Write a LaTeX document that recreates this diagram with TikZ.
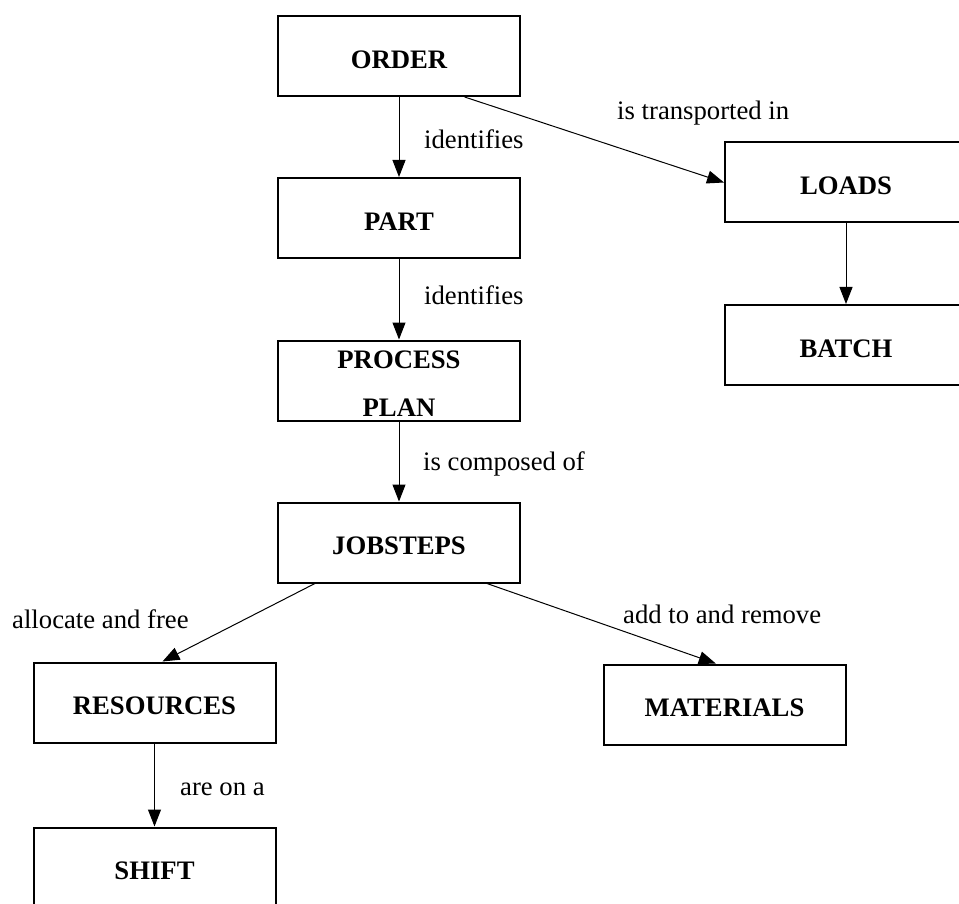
\documentclass[tikz,border=0pt]{standalone}
\usepackage{fontspec}
\setmainfont{Liberation Serif}
\usetikzlibrary{arrows.meta}

\tikzset{
  entity/.style={draw, line width=2pt, minimum width=242pt, minimum height=80pt,
    inner sep=0pt, text height=24.5pt, text depth=0pt,
    font=\fontsize{26.7}{32}\selectfont\bfseries},
  twoline/.style={inner sep=0pt, align=center,
    font=\fontsize{26.7}{48}\selectfont\bfseries},
  relation/.style={font=\fontsize{26.7}{32}\selectfont, inner sep=0pt},
  link/.style={line width=1pt, -{Triangle[length=17pt,width=13pt]}}
}

\begin{document}
\begin{tikzpicture}[x=1pt, y=-1pt]
  \useasboundingbox (0,0) rectangle (959,904);
  \clip (0,0) rectangle (959,904);

  % entities
  \node[entity] (order)     at (399,56)    {ORDER};
  \node[entity] (part)      at (399,218)   {PART};
  \node[entity] (plan)      at (399,380.5) {};
  \node[twoline] (plantext) at ([yshift=-3.5pt]plan.center) {PROCESS\\PLAN};
  \node[entity] (jobsteps)  at (399,542.5) {JOBSTEPS};
  \node[entity] (loads)     at (846,182.5) {LOADS};
  \node[entity] (batch)     at (846,345)   {BATCH};
  \node[entity] (resources) at (154.5,702.5) {RESOURCES};
  \node[entity] (materials) at (724.5,704.5) {MATERIALS};
  \node[entity] (shift)     at (154.5,867.5) {SHIFT};

  % relationships
  \draw[link] (order) -- (part);
  \draw[link] (order.-32.6) -- (loads.west);
  \draw[link] (loads) -- (batch);
  \draw[link] (part) -- (plan);
  \draw[link] (plan) -- (jobsteps);
  \draw[link] (jobsteps.-154.3) -- (resources.79.5);
  \draw[link] (jobsteps.-25.7) -- (materials.102.9);
  \draw[link] (resources) -- (shift);

  % relationship labels
  \node[relation, anchor=base west] (l1) at (424,149) {identifies};
  \node[relation, anchor=base west] (l2) at (617,120) {is transported in};
  \node[relation, anchor=base west] (l3) at (424,305) {identifies};
  \node[relation, anchor=base west] (l4) at (423,470) {is composed of};
  \node[relation, anchor=base west] (l5) at (12,628)  {allocate and free};
  \node[relation, anchor=base west] (l6) at (623,623) {add to and remove};
  \node[relation, anchor=base west] (l7) at (180,795) {are on a};
\end{tikzpicture}
\end{document}
